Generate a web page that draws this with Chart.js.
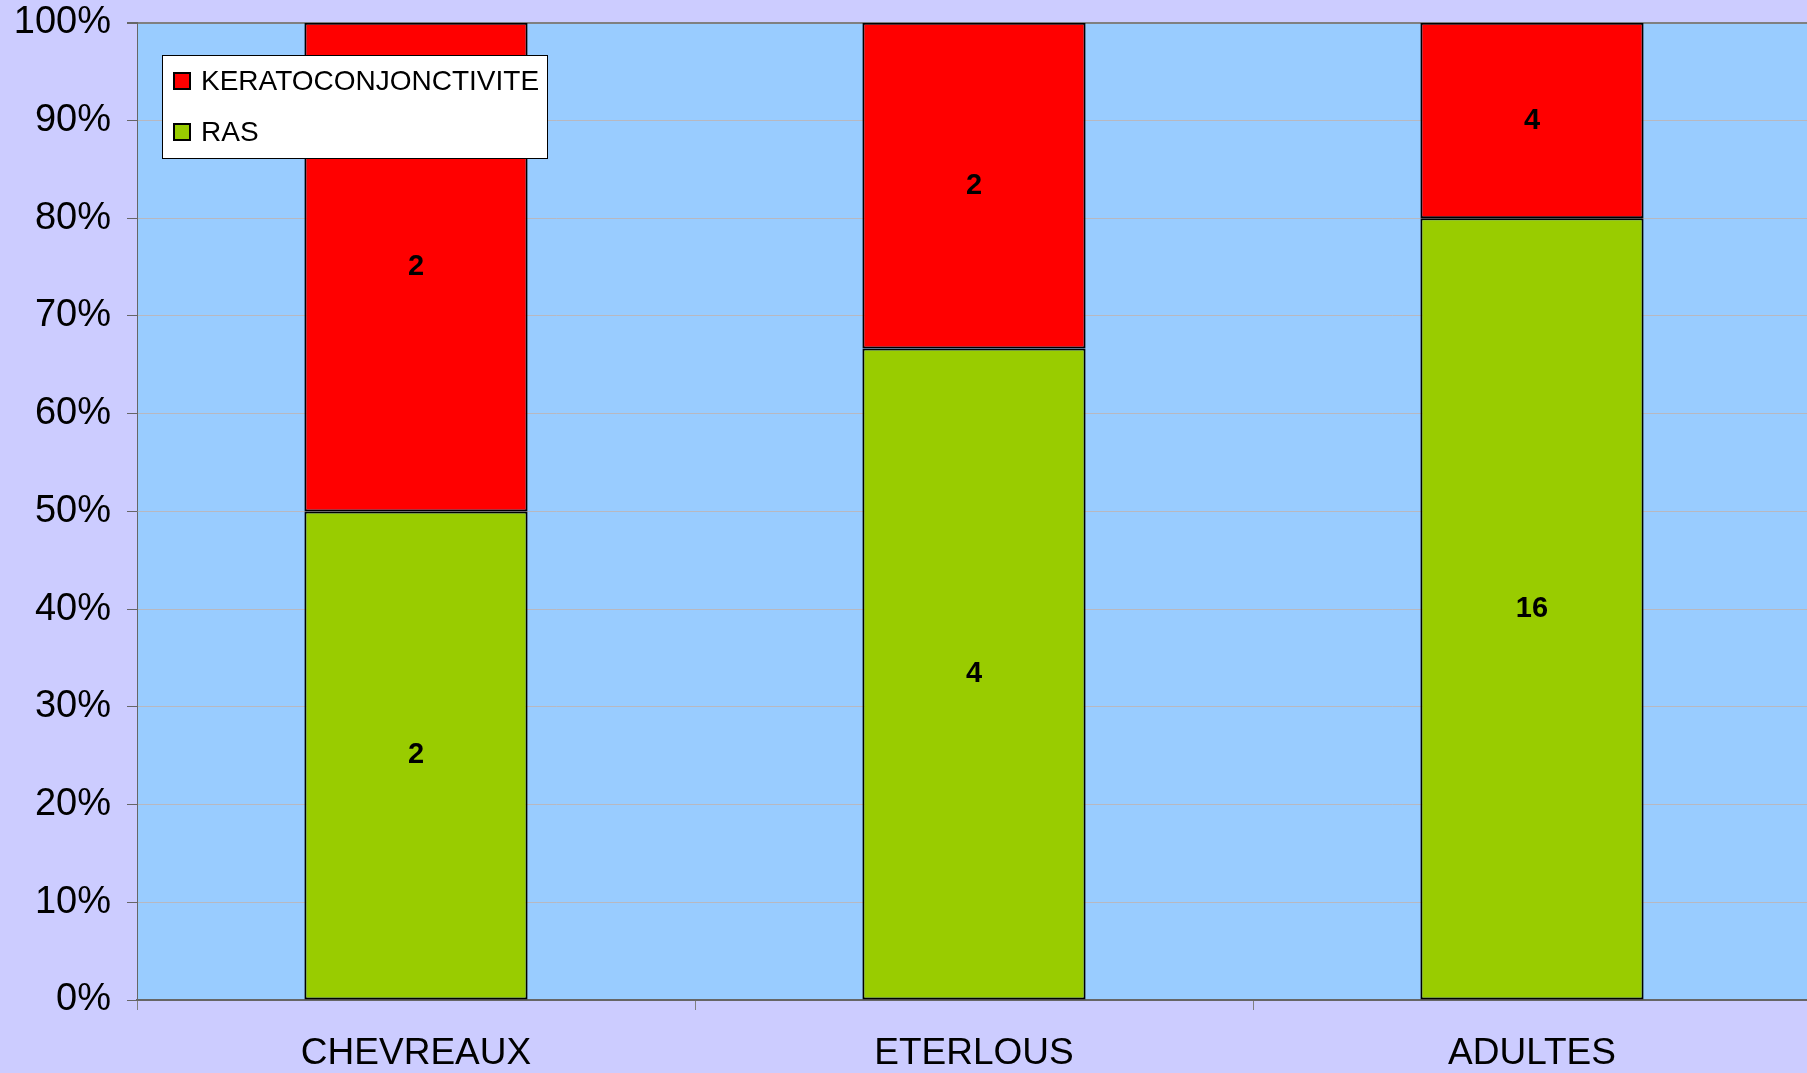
<!DOCTYPE html>
<html>
<head>
<meta charset="utf-8">
<script src="https://cdn.jsdelivr.net/npm/chart.js@4/dist/chart.umd.min.js"></script>
<style>
html,body{margin:0;padding:0;background:#CCCCFF;overflow:hidden;}
#wrap{width:1811px;height:1073px;position:relative;overflow:hidden;}
#c{position:absolute;left:0;top:-16px;}
</style>
</head>
<body>
<div id="wrap"><canvas id="c" width="1811" height="1089"></canvas></div>
<script>
const categories = ["CHEVREAUX", "ETERLOUS", "ADULTES"];
const seriesNames = ["KERATOCONJONCTIVITE", "RAS"];
const kerato = [2, 2, 4];
const ras = [2, 4, 16];
const yTicks = [0, 10, 20, 30, 40, 50, 60, 70, 80, 90, 100];

const totals = categories.map((_, i) => kerato[i] + ras[i]);
const pct = arr => arr.map((v, i) => v / totals[i] * 100);

const FONT = "'Liberation Sans', Arial, sans-serif";
const SHIFT = 16;

const plotBg = {
  id: 'plotBg',
  beforeDraw(chart) {
    const {ctx, chartArea: a} = chart;
    ctx.save();
    ctx.fillStyle = '#99CCFF';
    ctx.fillRect(a.left, a.top, a.right - a.left, a.bottom - a.top);
    ctx.restore();
  }
};

const valueLabels = {
  id: 'valueLabels',
  afterDatasetsDraw(chart) {
    const ctx = chart.ctx;
    ctx.save();
    ctx.font = "bold 29px " + FONT;
    ctx.fillStyle = '#000';
    ctx.textAlign = 'center';
    ctx.textBaseline = 'middle';
    chart.data.datasets.forEach((ds, di) => {
      const meta = chart.getDatasetMeta(di);
      meta.data.forEach((bar, i) => {
        const y = (bar.y + bar.base) / 2;
        ctx.fillText(String(ds.counts[i]), bar.x, y);
      });
    });
    ctx.restore();
  }
};

const legendBox = {
  id: 'legendBox',
  afterDraw(chart) {
    const ctx = chart.ctx;
    ctx.save();
    ctx.translate(0, SHIFT);
    const x = 162, y = 55, w = 385, h = 103;
    ctx.fillStyle = '#fff';
    ctx.fillRect(x, y, w, h);
    ctx.strokeStyle = '#000';
    ctx.lineWidth = 1;
    ctx.strokeRect(x + 0.5, y + 0.5, w, h);
    const order = [1, 0];
    const rows = [81, 132];
    ctx.font = "28px " + FONT;
    ctx.textBaseline = 'middle';
    order.forEach((di, k) => {
      const ds = chart.data.datasets[di];
      const cy = rows[k];
      ctx.fillStyle = ds.backgroundColor;
      ctx.fillRect(174, cy - 8, 16, 16);
      ctx.strokeStyle = '#000';
      ctx.lineWidth = 2;
      ctx.strokeRect(174, cy - 8, 16, 16);
      ctx.fillStyle = '#000';
      ctx.fillText(ds.label, 201, cy + 1);
    });
    ctx.restore();
  }
};

new Chart(document.getElementById('c'), {
  type: 'bar',
  data: {
    labels: categories,
    datasets: [
      {label: seriesNames[1], data: pct(ras), counts: ras, backgroundColor: '#99CC00', borderColor: '#000', borderWidth: 2, borderSkipped: false, categoryPercentage: 1, barPercentage: 0.4},
      {label: seriesNames[0], data: pct(kerato), counts: kerato, backgroundColor: '#FF0000', borderColor: '#000', borderWidth: 2, borderSkipped: false, categoryPercentage: 1, barPercentage: 0.4}
    ]
  },
  options: {
    responsive: false,
    animation: false,
    devicePixelRatio: 1,
    layout: {padding: {top: 5, right: 0, left: 0, bottom: 0}},
    plugins: {legend: {display: false}, tooltip: {enabled: false}},
    scales: {
      x: {
        stacked: true,
        grid: {offset: true, drawOnChartArea: false, drawTicks: true, tickLength: 10, color: '#808080'},
        border: {color: '#666', width: 2},
        ticks: {font: {family: FONT, size: 37}, color: '#000', padding: 22},
        afterFit(s) { s.height = 73; }
      },
      y: {
        stacked: true,
        min: 0, max: 100,
        afterBuildTicks(s) { s.ticks = yTicks.map(v => ({value: v})); },
        grid: {
          color: ctx => (ctx.tick && ctx.tick.value === 100) ? '#808080' : '#B8B8C0',
          lineWidth: ctx => (ctx.tick && ctx.tick.value === 100) ? 2 : 1,
          tickLength: 10,
          tickColor: '#666'
        },
        border: {color: '#666', width: 1},
        ticks: {font: {family: FONT, size: 38}, color: '#000', padding: 16, callback: v => v + '%'},
        afterFit(s) { s.width = 137; }
      }
    }
  },
  plugins: [plotBg, valueLabels, legendBox]
});
</script>
</body>
</html>
